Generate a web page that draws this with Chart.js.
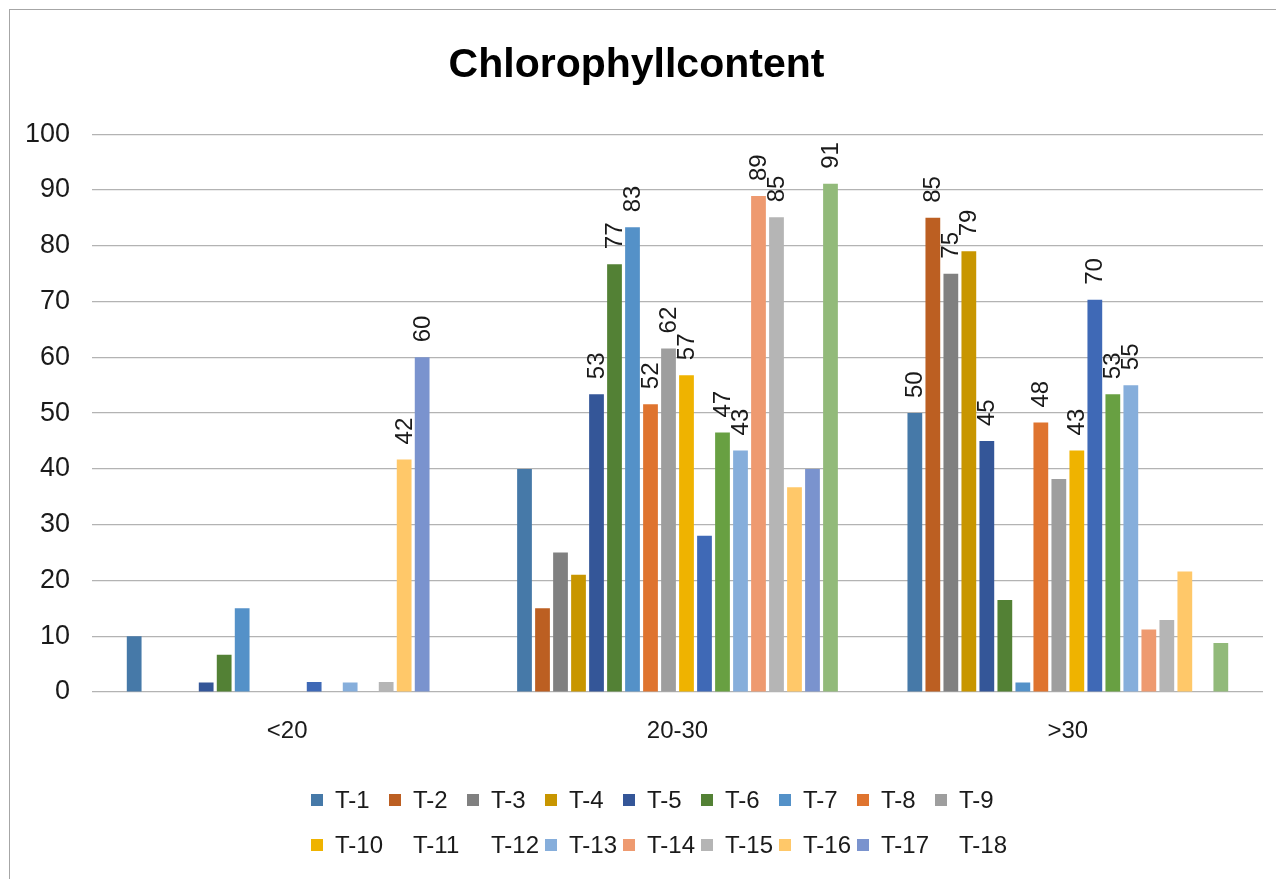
<!DOCTYPE html>
<html>
<head>
<meta charset="utf-8">
<script src="https://cdn.jsdelivr.net/npm/chart.js@4.4.0/dist/chart.umd.min.js"></script>
<style>
  html, body { margin: 0; padding: 0; background: #fff; overflow: hidden; }
  #frame {
    position: absolute; left: 9px; top: 9px; width: 1290px; height: 890px;
    border-left: 1px solid #a6a6a6; border-top: 1px solid #a6a6a6;
  }
  #wrap { position: absolute; left: 10px; top: 10px; width: 1266px; height: 869px; }
  #legend {
    position: absolute; left: 305px; top: 786px;
    display: grid; grid-template-columns: repeat(9, 78px); row-gap: 17px;
    font-family: "Liberation Sans Narrow", "Liberation Sans", sans-serif;
    font-size: 24px; color: #1a1a1a;
  }
  #legend .item { display: flex; align-items: center; height: 28px; white-space: nowrap; }
  #legend .box { width: 12px; height: 12px; margin: 0 12px 0 6px; flex: none; }
</style>
</head>
<body>
<div id="frame"></div>
<div id="wrap"><canvas id="chlChart" width="1266" height="869"></canvas></div>
<div id="legend"></div>
<script>
// chlorophyll content chart

const categories = ['<20', '20-30', '>30'];
const seriesNames = ['T-1', 'T-2', 'T-3', 'T-4', 'T-5', 'T-6', 'T-7', 'T-8', 'T-9',
  'T-10', 'T-11', 'T-12', 'T-13', 'T-14', 'T-15', 'T-16', 'T-17', 'T-18'];
const seriesColors = ['#4679a8', '#bc5f22', '#808080', '#c89600', '#345698', '#538135',
  '#5491c8', '#df742f', '#9e9e9e', '#efb300', '#3f69b6', '#68a042',
  '#86aedb', '#ee9a70', '#b5b5b5', '#ffc869', '#7a93ce', '#92ba7a'];
// one row per series: [<20, 20-30, >30]
const seriesValues = [
  [10, 40, 50],
  [0, 15, 85],
  [0, 25, 75],
  [0, 21, 79],
  [1.7, 53.4, 45],
  [6.7, 76.7, 16.5],
  [15, 83.3, 1.7],
  [0, 51.6, 48.3],
  [0, 61.6, 38.2],
  [0, 56.8, 43.3],
  [1.8, 28, 70.3],
  [0, 46.5, 53.4],
  [1.7, 43.3, 55],
  [0, 88.9, 11.2],
  [1.8, 85.1, 12.9],
  [41.7, 36.7, 21.6],
  [60, 40, 0],
  [0, 91.1, 8.8]
];
const yTicks = [0, 10, 20, 30, 40, 50, 60, 70, 80, 90, 100];
const legendNoBox = ['T-11', 'T-12', 'T-18'];
const labelMin = 41; // only the taller bars carry a value label

const datasets = seriesNames.map((name, i) => ({
  label: name,
  data: seriesValues[i],
  backgroundColor: seriesColors[i],
  categoryPercentage: 0.83,
  barPercentage: 0.82
}));

const valueLabels = {
  id: 'valueLabels',
  afterDatasetsDraw(chart) {
    const ctx = chart.ctx;
    ctx.save();
    ctx.font = '24px "Liberation Sans", sans-serif';
    ctx.fillStyle = '#1a1a1a';
    ctx.textAlign = 'left';
    ctx.textBaseline = 'middle';
    chart.data.datasets.forEach((ds, i) => {
      chart.getDatasetMeta(i).data.forEach((bar, j) => {
        const v = ds.data[j];
        if (v < labelMin) return;
        ctx.save();
        ctx.translate(bar.x + 1, bar.y - 15);
        ctx.rotate(-Math.PI / 2);
        ctx.fillText(Math.round(v), 0, 0);
        ctx.restore();
      });
    });
    ctx.restore();
  }
};

const ctx = document.getElementById('chlChart').getContext('2d');
new Chart(ctx, {
  type: 'bar',
  data: { labels: categories, datasets: datasets },
  options: {
    responsive: false,
    animation: false,
    layout: { padding: { left: 0, right: 13, top: 0, bottom: 127 } },
    plugins: {
      legend: { display: false },
      tooltip: { enabled: false },
      title: {
        display: true,
        text: 'Chlorophyllcontent',
        color: '#000',
        font: { family: '"Liberation Sans", sans-serif', size: 41, weight: 'bold' },
        padding: { top: 31, bottom: 44 }
      }
    },
    scales: {
      x: {
        grid: { display: false, drawTicks: false },
        border: { display: false },
        ticks: {
          color: '#1a1a1a', padding: 25,
          font: { family: '"Liberation Sans Narrow", sans-serif', size: 24 }
        },
        afterFit(scale) { scale.height = 60; }
      },
      y: {
        min: 0, max: 100,
        afterBuildTicks(scale) { scale.ticks = yTicks.map(v => ({ value: v })); },
        grid: { color: '#b3b3b3', lineWidth: 1.2, drawTicks: false },
        border: { display: false },
        ticks: {
          color: '#1a1a1a', padding: 22,
          font: { family: '"Liberation Sans Narrow", sans-serif', size: 27 }
        },
        afterFit(scale) { scale.width = 82; }
      }
    }
  },
  plugins: [valueLabels]
});

// legend laid out as Excel does: 9 fixed-width columns
const legendEl = document.getElementById('legend');
seriesNames.forEach((name, i) => {
  const item = document.createElement('div');
  item.className = 'item';
  const box = document.createElement('span');
  box.className = 'box';
  box.style.background = legendNoBox.includes(name) ? 'transparent' : seriesColors[i];
  const txt = document.createElement('span');
  txt.textContent = name;
  item.appendChild(box);
  item.appendChild(txt);
  legendEl.appendChild(item);
});
</script>
</body>
</html>
